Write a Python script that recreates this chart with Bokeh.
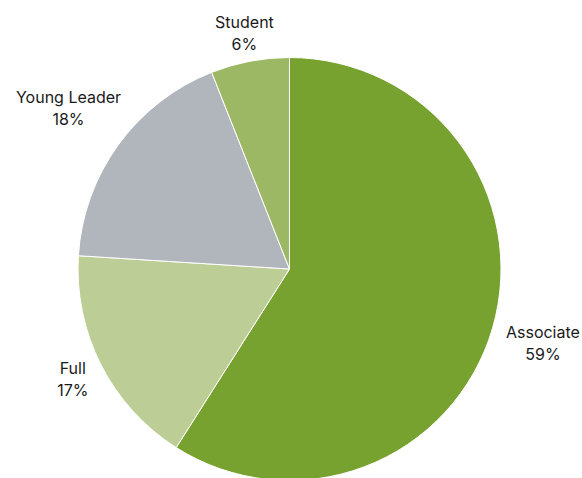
import math
from bokeh.plotting import figure
from bokeh.models import Range1d, ColumnDataSource
from bokeh.core.properties import value
from bokeh.embed import file_html
from bokeh.resources import INLINE

categories = ["Associate", "Full", "Young Leader", "Student"]
values = [59, 17, 18, 6]
colors = ["#78A22F", "#BCCE96", "#B0B6BC", "#9DB865"]

W, H = 582, 478
cx, cy, R = 289, H - 268.5, 211.5

p = figure(width=W, height=H, output_backend="svg", toolbar_location=None,
           x_range=Range1d(0, W), y_range=Range1d(0, H), min_border=0)
p.axis.visible = False
p.grid.visible = False
p.outline_line_color = None

total = sum(values)
starts, ends, mids = [], [], []
a = math.pi / 2
for v in values:
    da = v / total * 2 * math.pi
    starts.append(a)
    ends.append(a - da)
    mids.append(a - da / 2)
    a -= da

src = ColumnDataSource(dict(start=starts, end=ends, color=colors))
p.wedge(x=cx, y=cy, radius=R, start_angle="start", end_angle="end",
        direction="clock", fill_color="color", line_color="white",
        line_width=1, source=src)

font = value("Inter")
fs = 16
char_w = 0.57 * fs
line_h = 22
gap = 9
l1x, l1y, l2y, t1, t2 = [], [], [], [], []
for cat, v, m in zip(categories, values, mids):
    pct = f"{round(v / total * 100)}%"
    w = max(len(cat), len(pct)) * char_w
    h = 1.3 * line_h
    dx, dy = math.cos(m), math.sin(m)
    ext = abs(dx) * w / 2 + abs(dy) * h / 2
    d = R + gap + ext
    lx, ly = cx + dx * d, cy + dy * d
    l1x.append(lx)
    l1y.append(ly + line_h / 2)
    l2y.append(ly - line_h / 2)
    t1.append(cat)
    t2.append(pct)

p.text(x=l1x, y=l1y, text=t1, text_align="center", text_baseline="middle",
       text_font=font, text_font_size=f"{fs}px", text_color="#1a1a1a")
p.text(x=l1x, y=l2y, text=t2, text_align="center", text_baseline="middle",
       text_font=font, text_font_size=f"{fs}px", text_color="#1a1a1a")

open("out.html", "w").write(file_html(p, INLINE))
